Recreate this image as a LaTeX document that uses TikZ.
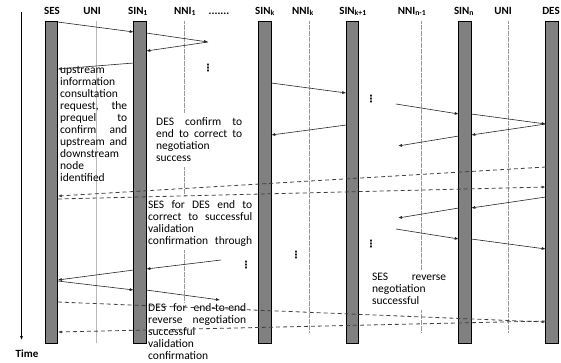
\documentclass[tikz,border=0pt]{standalone}
\usepackage{fontspec}
\setmainfont{Carlito}
\newfontfamily\symfont{DejaVu Sans}
\usetikzlibrary{arrows.meta}

\tikzset{
  bar/.style={draw=black, line width=0.7pt, fill=gray, inner sep=0pt, outer sep=0pt,
    minimum width=12.5pt, minimum height=322pt},
  hdr/.style={font=\bfseries\fontsize{11}{13}\selectfont, anchor=base, inner sep=0pt},
  msg/.style={-{Latex[length=4pt,width=3pt]}, line width=0.6pt, black!85},
  reply/.style={msg, dash pattern=on 4pt off 3pt, line width=0.8pt, black!75},
  life/.style={gray!80, line width=0.5pt, dash pattern=on 0.5pt off 0.7pt},
  uniline/.style={gray!55, line width=0.5pt},
  note/.style={font=\fontsize{11.5}{12}\selectfont, align=left, inner sep=0pt, anchor=base west},
  vd/.style={font=\symfont\bfseries\fontsize{10}{10}\selectfont, inner sep=0pt}
}

\begin{document}
\begin{tikzpicture}[x=1pt, y=-1pt]
  \useasboundingbox (0,0) rectangle (561,362);

  % headers
  \node[hdr] (lses) at (52,14) {SES};
  \node[hdr] (luni) at (92,14) {UNI};
  \node[hdr] (lsin1) at (138,14) {SIN\textsubscript{1}};
  \node[hdr] (lnni1) at (185,14) {NNI\textsubscript{1}};
  \node[hdr] (ldots) at (219,14) {.......};
  \node[hdr] (lsink) at (265,14) {SIN\textsubscript{k}};
  \node[hdr] (lnnik) at (303,14) {NNI\textsubscript{k}};
  \node[hdr] (lsink1) at (353,14) {SIN\textsubscript{k+1}};
  \node[hdr] (lnnin) at (412,14) {NNI\textsubscript{n-1}};
  \node[hdr] (lsinn) at (464,14) {SIN\textsubscript{n}};
  \node[hdr] (luni2) at (503,14) {UNI};
  \node[hdr] (ldes) at (551,14) {DES};

  % time axis
  \coordinate (ttop) at (21.5,12);
  \coordinate (tend) at (21.5,340);
  \draw[-{Latex[length=4pt,width=3pt]}, line width=0.7pt] (ttop) -- (tend);
  \node[hdr] (time) at (27,357) {Time};

  % lifelines
  \draw[uniline] (96,21) -- (96,343);
  \draw[life] (184,21) -- (184,113) (184,167) -- (184,195) (184,250) -- (184,302);
  \draw[life] (309,21) -- (309,332);
  \draw[life] (421,21) -- (421,270) (421,310) -- (421,332);
  \draw[life] (508,21) -- (508,332);

  % nodes
  \node[bar] (ses) at (51.5,182) {};
  \node[bar] (sin1) at (140,182) {};
  \node[bar] (sink) at (265,182) {};
  \node[bar] (sink1) at (352.5,182) {};
  \node[bar] (sinn) at (465,182) {};
  \node[bar] (des) at (552,182) {};

  % notes
  \node[note, text width=67pt] (n1) at (60,73) {upstream\\information\\consultation\\request,\hfill the\\prequel\hfill to\\confirm\hfill and\\upstream\hfill and\\downstream\\node\\identified};
  \node[note, text width=86pt] (n2) at (156,125) {DES\hfill confirm\hfill to\\end\hfill to\hfill correct\hfill to\\negotiation\\success};
  \node[note, text width=104pt] (n3) at (148,208) {SES\hfill for\hfill DES\hfill end\hfill to\\correct\hfill to\hfill successful\\validation\\confirmation\hfill through};
  \node[note, text width=98pt] (n4) at (148,311) {DES\hfill for\hfill end-to-end\\reverse\hfill negotiation\\successful\\validation\\confirmation};
  \node[note, text width=74pt] (n5) at (372,280) {SES\hfill reverse\\negotiation\\successful};

  % vertical dots
  \node[vd] (d1) at (208,68) {⋮};
  \node[vd] (d2) at (371,99) {⋮};
  \node[vd] (d3) at (246,265) {⋮};
  \node[vd] (d4) at (296,255) {⋮};
  \node[vd] (d5) at (371,244) {⋮};

  % free ends
  \coordinate (p1) at (208,42);
  \coordinate (p2) at (396,104);
  \coordinate (p3) at (398,146);
  \coordinate (p4) at (398,218);
  \coordinate (p5) at (396,229);
  \coordinate (p6) at (221,260);
  \coordinate (p7) at (220,300);

  % messages
  \draw[msg] (ses.east |- 0,22) -- (sin1.west |- 0,32);
  \draw[msg] (sin1.east |- 0,33) -- (p1);
  \draw[msg] (p1) -- (sin1.east |- 0,51);
  \draw[msg] (sin1.west |- 0,63) -- (ses.east |- 0,69);
  \draw[msg] (sink.east |- 0,83) -- (sink1.west |- 0,93);
  \draw[msg] (sink1.west |- 0,125) -- (sink.east |- 0,135);
  \draw[msg] (p2) -- (sinn.west |- 0,114);
  \draw[msg] (sinn.east |- 0,114) -- (des.west |- 0,124);
  \draw[msg] (des.west |- 0,124) -- (sinn.east |- 0,135);
  \draw[msg] (sinn.west |- 0,136) -- (p3);
  \draw[reply] (des.west |- 0,167) -- (ses.east |- 0,196);
  \draw[reply] (ses.east |- 0,199) -- (des.west |- 0,187);
  \draw[msg] (des.west |- 0,197) -- (sinn.east |- 0,208);
  \draw[msg] (sinn.west |- 0,208) -- (p4);
  \draw[msg] (p5) -- (sinn.west |- 0,239);
  \draw[msg] (sinn.east |- 0,239) -- (des.west |- 0,249);
  \draw[msg] (p6) -- (sin1.east |- 0,269);
  \draw[msg] (sin1.west |- 0,270) -- (ses.east |- 0,280);
  \draw[msg] (ses.east |- 0,281) -- (sin1.west |- 0,290);
  \draw[msg] (sin1.east |- 0,290) -- (p7);
  \draw[reply] (ses.east |- 0,302) -- (des.west |- 0,322);
  \draw[reply] (des.west |- 0,321) -- (ses.east |- 0,332);
\end{tikzpicture}
\end{document}
